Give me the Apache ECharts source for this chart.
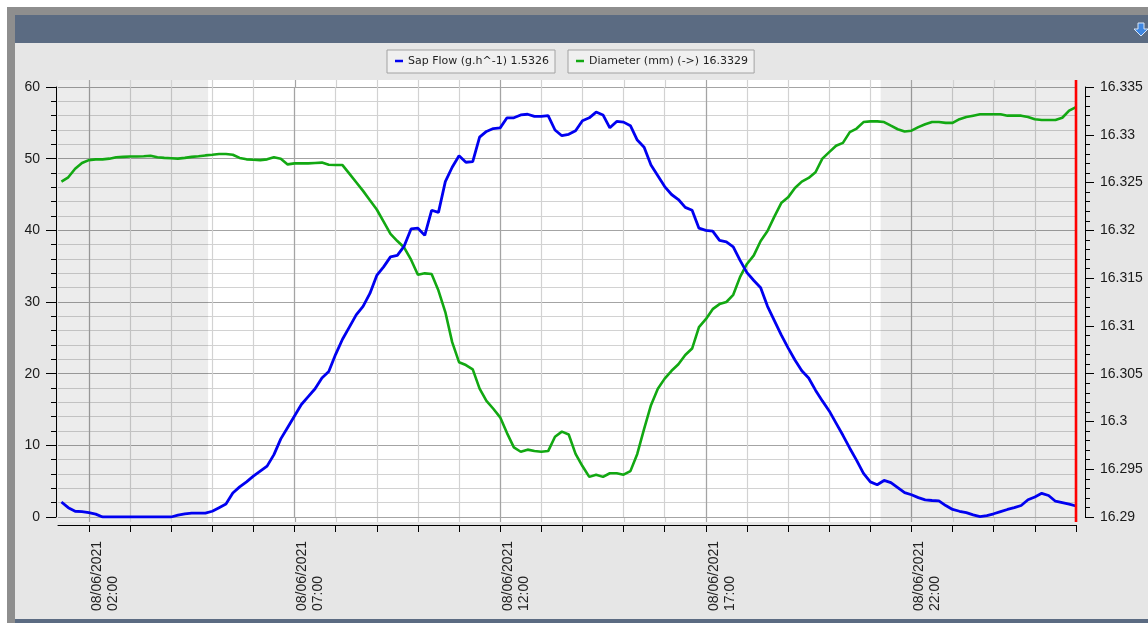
<!DOCTYPE html>
<html>
<head>
<meta charset="utf-8">
<script src="https://cdn.jsdelivr.net/npm/echarts@6/dist/echarts.min.js"></script>
<style>
html,body{margin:0;padding:0;background:#ffffff;}
#chart{width:1148px;height:623px;}
</style>
</head>
<body>
<div id="chart"></div>
<script>
// ---------------- data ----------------
const sapFlowName = 'Sap Flow (g.h^-1) 1.5326';
const diameterName = 'Diameter (mm) (->) 16.3329';
const dateLabel = '08/06/2021';

// samples every 10 minutes, first one at 01:20
const startHour = 1 + 20 / 60;
const stepMinutes = 10;

// Sap flow (g/h), one row per clock hour
const sapFlow = [
  2.1, 1.3, 0.8, 0.75,                       // 01:20-01:50
  0.6, 0.4, 0, 0, 0, 0,                      // 02
  0, 0, 0, 0, 0, 0,                          // 03
  0, 0.25, 0.45, 0.55, 0.55, 0.55,           // 04
  0.8, 1.3, 1.8, 3.35, 4.2, 4.9,             // 05
  5.7, 6.4, 7.1, 8.7, 10.9, 12.5,            // 06
  14.1, 15.7, 16.8, 17.9, 19.4, 20.3,        // 07
  22.7, 24.8, 26.5, 28.2, 29.4, 31.2,        // 08
  33.7, 34.9, 36.3, 36.5, 37.8, 40.2,        // 09
  40.3, 39.3, 42.8, 42.5, 46.8, 48.8,        // 10
  50.4, 49.5, 49.6, 53.0, 53.8, 54.2,        // 11
  54.3, 55.7, 55.7, 56.1, 56.2, 55.9,        // 12
  55.9, 56.0, 54.0, 53.2, 53.4, 53.9,        // 13
  55.3, 55.7, 56.5, 56.1, 54.3, 55.2,        // 14
  55.1, 54.6, 52.6, 51.6, 49.1, 47.6,        // 15
  46.1, 45.0, 44.3, 43.2, 42.8, 40.3,        // 16
  40.0, 39.9, 38.6, 38.4, 37.7, 35.8,        // 17
  34.1, 33.0, 32.0, 29.4, 27.4, 25.4,        // 18
  23.6, 21.9, 20.4, 19.4, 17.7, 16.2,        // 19
  14.8, 13.1, 11.4, 9.6, 7.9, 6.1,           // 20
  4.9, 4.5, 5.1, 4.8, 4.1, 3.4,              // 21
  3.1, 2.7, 2.4, 2.3, 2.25, 1.6,             // 22
  1.05, 0.8, 0.6, 0.3, 0.05, 0.2,            // 23
  0.45, 0.75, 1.05, 1.3, 1.6, 2.4,           // 00
  2.8, 3.3, 3.0, 2.2, 2.0, 1.8,              // 01
  1.5326                                     // 02:00
];

// Stem diameter (mm)
const diameter = [
  16.3251, 16.32555, 16.32645, 16.32705,
  16.32735, 16.32743, 16.32743, 16.3275, 16.32765, 16.32769,
  16.32773, 16.32773, 16.32776, 16.3278, 16.32765, 16.32758,
  16.32754, 16.3275, 16.32758, 16.32769, 16.32776, 16.32784,
  16.32791, 16.32799, 16.32799, 16.32791, 16.32758, 16.32743,
  16.32739, 16.32735, 16.32743, 16.32765, 16.3275, 16.3269,
  16.32701, 16.32701, 16.32701, 16.32705, 16.32709, 16.32686,
  16.32683, 16.32683, 16.32593, 16.32503, 16.32413, 16.32315,
  16.32218, 16.3209, 16.31963, 16.31888, 16.3182, 16.31693,
  16.31535, 16.3155, 16.31543, 16.3137, 16.31145, 16.3083,
  16.3062, 16.3059, 16.30545, 16.30343, 16.30215, 16.30133,
  16.30043, 16.29878, 16.29728, 16.29683, 16.29705, 16.2969,
  16.29683, 16.2969, 16.2984, 16.29893, 16.29863, 16.2966,
  16.29533, 16.2942, 16.29443, 16.2942, 16.29458, 16.29458,
  16.29443, 16.2948, 16.2966, 16.29923, 16.3017, 16.30343,
  16.30448, 16.3053, 16.30598, 16.30695, 16.30763, 16.30988,
  16.3107, 16.31175, 16.31228, 16.3125, 16.31325, 16.31513,
  16.31648, 16.31738, 16.31888, 16.31993, 16.32143, 16.32285,
  16.32345, 16.32443, 16.3251, 16.32548, 16.32608, 16.3275,
  16.32818, 16.32885, 16.32915, 16.33028, 16.33065, 16.33133,
  16.3314, 16.3314, 16.33133, 16.33095, 16.33058, 16.33035,
  16.33043, 16.3308, 16.3311, 16.33133, 16.33133, 16.33125,
  16.33125, 16.33163, 16.33185, 16.332, 16.33215, 16.33215,
  16.33215, 16.33215, 16.332, 16.332, 16.332, 16.33185,
  16.33163, 16.33155, 16.33155, 16.33155, 16.33178, 16.33253,
  16.3329
];

// x axis (hours since 08/06/2021 00:00)
const axisStartHour = 1.25;
const axisEndHour = 26;
const hourTicks = [2,3,4,5,6,7,8,9,10,11,12,13,14,15,16,17,18,19,20,21,22,23,24,25,26];
const labelHours = [2, 7, 12, 17, 22];
const labelTimes = ['02:00', '07:00', '12:00', '17:00', '22:00'];
const nightRanges = [[1.25, 4.9], [21.25, 26]];
const cursorHour = 26;

// y axes
const leftMin = 0, leftMax = 60, leftStep = 10;
const rightMin = 16.29, rightMax = 16.335, rightStep = 0.005;

// ---------------- layout / style ----------------
const W = 1148, H = 623;
const GRID = {left: 58, right: 72, top: 87, bottom: 106};
const PAD_TOP = 7, PAD_BOTTOM = 5;
const FONT = '"Liberation Sans", Arial, sans-serif';
const LEGEND_FONT = '"DejaVu Sans", Tahoma, sans-serif';
const MINOR_GRID = '#d2d2d2';
const MAJOR_GRID = '#a4a4a4';
const SHADE = 'rgba(0,0,0,0.075)';

const toPairs = (vals) => vals.map((v, i) => [startHour + i * stepMinutes / 60, v]);

const chart = echarts.init(document.getElementById('chart'), null, {renderer: 'canvas'});

const frameGraphics = [
  {id: 'border', type: 'rect', z: -20, shape: {x: 7, y: 7, width: W - 7, height: H - 7}, style: {fill: '#8e8e8e'}},
  {id: 'panel', type: 'rect', z: -19, shape: {x: 15, y: 15, width: W - 15, height: H - 19}, style: {fill: '#e6e6e6'}},
  {id: 'titlebar', type: 'rect', z: -18, shape: {x: 15, y: 15, width: W - 15, height: 28}, style: {fill: '#5b6b82'}},
  {id: 'bottombar', type: 'rect', z: -18, shape: {x: 15, y: H - 4, width: W - 15, height: 4}, style: {fill: '#5b6b82'}},
  {id: 'arrow', type: 'polygon', z: -17,
    shape: {points: [[1138, 23], [1144, 23], [1144, 29], [1148, 29], [1141, 36], [1134, 29], [1138, 29]]},
    style: {fill: '#3f86e0', stroke: '#d8e6f8', lineWidth: 1}},
  {id: 'plotbg', type: 'rect', z: -5,
    shape: {x: GRID.left, y: GRID.top - PAD_TOP, width: W - GRID.left - GRID.right, height: H - GRID.top - GRID.bottom + PAD_TOP + PAD_BOTTOM},
    style: {fill: '#ffffff'}}
];

const legendCommon = {
  orient: 'horizontal',
  icon: 'rect',
  itemWidth: 8,
  itemHeight: 2.5,
  padding: [4, 6, 5, 8],
  backgroundColor: '#f0f0f0',
  borderColor: '#a2a2a2',
  borderWidth: 1,
  borderRadius: 0,
  selectedMode: false,
  textStyle: {fontFamily: LEGEND_FONT, fontSize: 11, color: '#1e1e1e', lineHeight: 14}
};

const option = {
  animation: false,
  backgroundColor: 'transparent',
  graphic: {elements: frameGraphics},
  legend: [
    Object.assign({}, legendCommon, {left: 387, top: 50, data: [sapFlowName]}),
    Object.assign({}, legendCommon, {left: 568, top: 50, data: [diameterName]})
  ],
  grid: {
    left: GRID.left, right: GRID.right, top: GRID.top, bottom: GRID.bottom,
    show: true, backgroundColor: '#ffffff', borderWidth: 0, containLabel: false
  },
  xAxis: [{
    type: 'value',
    min: axisStartHour,
    max: axisEndHour,
    position: 'bottom',
    offset: 8,
    axisLine: {show: true, onZero: false, lineStyle: {color: '#000', width: 1}},
    axisTick: {show: true, customValues: hourTicks, length: 7, lineStyle: {color: '#000'}},
    splitLine: {show: true, lineStyle: {color: MINOR_GRID, width: 1.2}},
    axisLabel: {
      customValues: labelHours,
      rotate: 90,
      margin: 17,
      verticalAlign: 'top',
      formatter: (v) => {
        const i = labelHours.indexOf(Math.round(v));
        return '{d|' + dateLabel + '}\n{d|' + labelTimes[i] + '}';
      },
      rich: {d: {width: 69, align: 'left', fontSize: 14, lineHeight: 16, fontFamily: FONT, color: '#222'}}
    }
  }, {
    // overlay axis drawing the darker lines at labelled hours
    type: 'value',
    min: axisStartHour,
    max: axisEndHour,
    position: 'bottom',
    axisLine: {show: false},
    axisTick: {show: false, customValues: labelHours},
    axisLabel: {show: false, customValues: labelHours},
    splitLine: {show: true, lineStyle: {color: MAJOR_GRID, width: 1.2}}
  }],
  yAxis: [{
    type: 'value',
    position: 'left',
    min: leftMin, max: leftMax, interval: leftStep,
    offset: 2,
    axisLine: {show: true, lineStyle: {color: '#000', width: 1}},
    axisTick: {show: true, length: 10, lineStyle: {color: '#000'}},
    minorTick: {show: true, splitNumber: 5, length: 5, lineStyle: {color: '#000'}},
    splitLine: {show: true, lineStyle: {color: MAJOR_GRID, width: 1.2}},
    minorSplitLine: {show: true, lineStyle: {color: MINOR_GRID, width: 1.2}},
    axisLabel: {margin: 16, fontSize: 14, fontFamily: FONT, color: '#1a1a1a'}
  }, {
    type: 'value',
    position: 'right',
    min: rightMin, max: rightMax, interval: rightStep,
    offset: 9,
    axisLine: {show: true, lineStyle: {color: '#000', width: 1}},
    axisTick: {show: true, length: 9, lineStyle: {color: '#000'}},
    minorTick: {show: true, splitNumber: 5, length: 5, lineStyle: {color: '#000'}},
    splitLine: {show: false},
    axisLabel: {margin: 15, fontSize: 14, fontFamily: FONT, color: '#1a1a1a'}
  }],
  series: [{
    name: sapFlowName,
    type: 'line',
    xAxisIndex: 0,
    yAxisIndex: 0,
    data: toPairs(sapFlow),
    showSymbol: false,
    color: '#0000f0',
    lineStyle: {color: '#0000f0', width: 2.8},
    z: 3,
    markArea: {
      silent: true,
      itemStyle: {color: SHADE},
      data: nightRanges.map(r => [{xAxis: r[0]}, {xAxis: r[1]}])
    }
  }, {
    name: diameterName,
    type: 'line',
    xAxisIndex: 0,
    yAxisIndex: 1,
    data: toPairs(diameter),
    showSymbol: false,
    color: '#12a812',
    lineStyle: {color: '#12a812', width: 2.6},
    z: 2
  }]
};

chart.setOption(option);

// elements placed from the axis scale after layout
const xPx = (h) => chart.convertToPixel({xAxisIndex: 0}, h);
const plotTop = GRID.top - PAD_TOP;
const plotBottom = H - GRID.bottom + PAD_BOTTOM;
const gridTopPx = GRID.top;
const gridBottomPx = H - GRID.bottom;
const extras = [];
nightRanges.forEach((r, k) => {
  const x1 = xPx(r[0]), x2 = xPx(r[1]);
  extras.push({id: 'shTop' + k, type: 'rect', z: -4, shape: {x: x1, y: plotTop, width: x2 - x1, height: gridTopPx - plotTop}, style: {fill: SHADE}});
  extras.push({id: 'shBot' + k, type: 'rect', z: -4, shape: {x: x1, y: gridBottomPx, width: x2 - x1, height: plotBottom - gridBottomPx}, style: {fill: SHADE}});
});
hourTicks.forEach((h, k) => {
  const x = Math.round(xPx(h)) + 0.5;
  const col = labelHours.indexOf(h) >= 0 ? MAJOR_GRID : MINOR_GRID;
  extras.push({id: 'vt' + k, type: 'line', z: -3, shape: {x1: x, y1: plotTop, x2: x, y2: gridTopPx}, style: {stroke: col, lineWidth: 1.2}});
  extras.push({id: 'vb' + k, type: 'line', z: -3, shape: {x1: x, y1: gridBottomPx, x2: x, y2: plotBottom}, style: {stroke: col, lineWidth: 1.2}});
});
const cx = xPx(cursorHour);
extras.push({id: 'cursor', type: 'line', z: 50, shape: {x1: cx, y1: plotTop, x2: cx, y2: plotBottom}, style: {stroke: '#ff0000', lineWidth: 2.6}});

chart.setOption({graphic: {elements: extras}});
</script>
</body>
</html>
